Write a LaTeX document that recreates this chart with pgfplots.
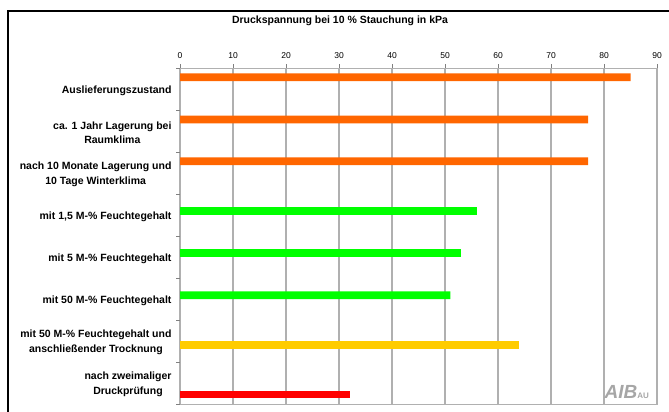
\documentclass[border=0pt]{standalone}
\usepackage{pgfplots}
\pgfplotsset{compat=1.18}
\usepackage{fontspec}
\setmainfont{Liberation Sans}
\definecolor{barorange}{HTML}{FF6600}
\definecolor{bargreen}{HTML}{00FF00}
\definecolor{baryellow}{HTML}{FFCC00}
\definecolor{barred}{HTML}{FF0000}
\definecolor{gridgray}{HTML}{B0B0B0}
\begin{document}
\begin{tikzpicture}
\useasboundingbox (0pt,0pt) rectangle (669pt,412pt);
% outer frame (only top and left visible)
\draw[line width=2pt] (8pt,0pt) -- (8pt,401pt) -- (669pt,401pt);
\node[font=\bfseries\fontsize{10.5}{12}\selectfont] at (340pt,391pt) {Druckspannung bei 10 \% Stauchung in kPa};
\begin{axis}[
    at={(180pt,8pt)}, anchor=south west,
    scale only axis, width=477pt, height=336pt,
    xmin=0, xmax=90, ymin=0, ymax=8,
    y dir=reverse,
    xtick={0,10,...,90},
    xtick pos=right, xticklabel pos=right,
    ytick={0,1,...,8}, yticklabels={},
    ytick pos=left,
    extra y ticks={0.5,1.5,...,7.5},
    extra y tick labels={
        Auslieferungszustand,
        {ca. 1 Jahr Lagerung bei\\Raumklima},
        {nach 10 Monate Lagerung und\\10 Tage Winterklima},
        {mit 1,5 M-\% Feuchtegehalt},
        {mit 5 M-\% Feuchtegehalt},
        {mit 50 M-\% Feuchtegehalt},
        {mit 50 M-\% Feuchtegehalt und\\anschließender Trocknung},
        {nach zweimaliger\\Druckprüfung}},
    extra y tick style={tick style={draw=none}},
    tick align=outside, major tick length=4pt,
    xmajorgrids,
    grid style={gridgray, line width=1.3pt},
    axis line style={gridgray, line width=1pt},
    tick style={gray, line width=0.8pt},
    /pgf/number format/assume math mode=true,
    xticklabel style={font=\fontsize{8.5}{9}\selectfont, yshift=2pt},
    yticklabel style={font=\bfseries\fontsize{10.5}{14.5}\selectfont, align=center, xshift=-1pt, yshift=-1.5pt},
    clip=false,
]
\addplot[xbar, bar width=7.7pt, bar shift=0pt, fill=barorange, draw=none]
    coordinates {(85,0.22) (77,1.225) (77,2.22)};
\addplot[xbar, bar width=7.7pt, bar shift=0pt, fill=bargreen, draw=none]
    coordinates {(56,3.405) (53,4.405) (51,5.41)};
\addplot[xbar, bar width=7.7pt, bar shift=0pt, fill=baryellow, draw=none]
    coordinates {(64,6.6)};
\addplot[xbar, bar width=7.7pt, bar shift=0pt, fill=barred, draw=none]
    coordinates {(32,7.775)};
\end{axis}
% AIBau logo
\node[anchor=south east, inner sep=0pt, text=gray!70] at (649pt,13pt)
    {\fontsize{19}{19}\selectfont\bfseries\itshape AIB\fontsize{8}{8}\selectfont\upshape AU};
\end{tikzpicture}
\end{document}
